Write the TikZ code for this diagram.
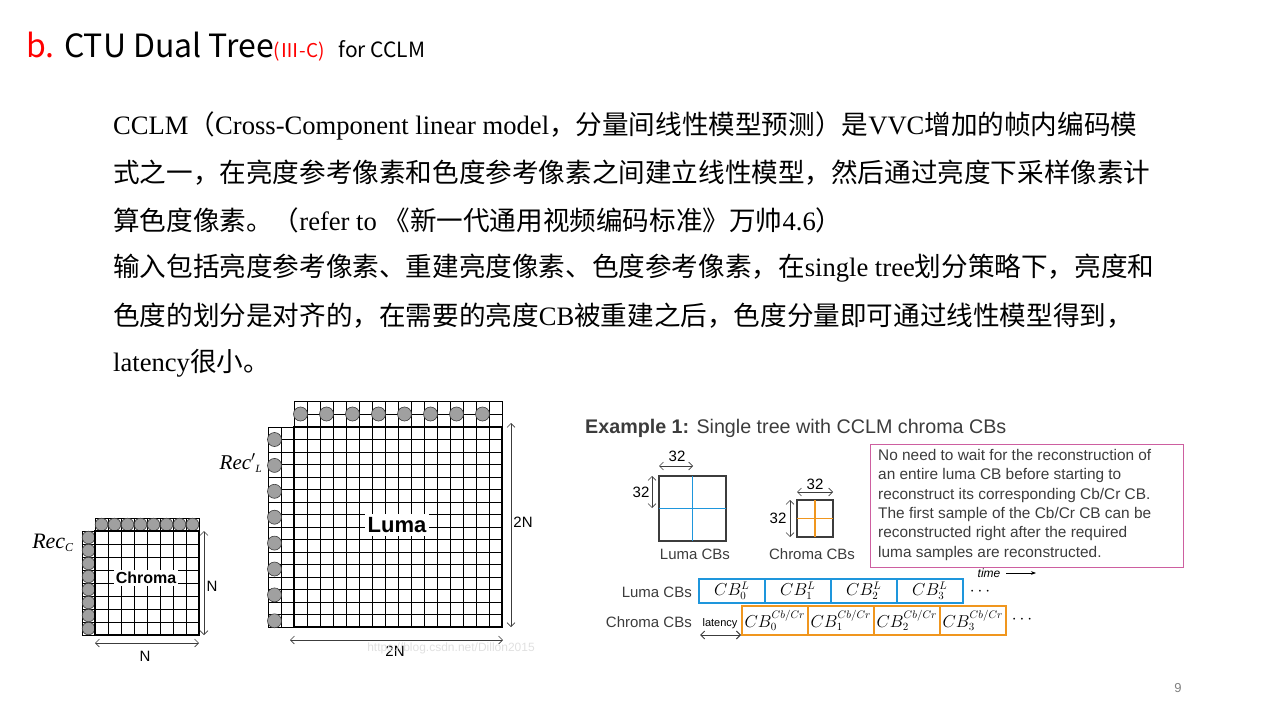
\documentclass[tikz,border=0pt]{standalone}
\usepackage{fontspec}
\setmainfont{Liberation Serif}
\setsansfont{Liberation Sans}
\newfontfamily\cjk{Noto Sans CJK SC}
\usetikzlibrary{arrows.meta}
\definecolor{dgray}{RGB}{60,60,60}
\definecolor{cbblue}{RGB}{30,150,220}
\definecolor{cborange}{RGB}{240,150,30}
\definecolor{pinkb}{RGB}{205,95,160}
\definecolor{circg}{RGB}{160,160,160}
\tikzset{
 cell/.style={draw=black,line width=0.6pt},
 smp/.style={draw=dgray,fill=circg,line width=0.6pt},
 dim/.style={{Straight Barb[length=4pt]}-{Straight Barb[length=4pt]},draw=dgray,line width=0.6pt},
 body/.style={anchor=west,inner sep=0,font=\fontsize{26.6}{29}\selectfont},
 sm/.style={font=\sffamily\fontsize{15}{18}\selectfont,inner sep=1pt},
 cbl/.style={draw=cbblue,line width=1.5pt,font=\fontsize{16}{18}\selectfont},
 cbo/.style={draw=cborange,line width=1.5pt,font=\fontsize{16}{18}\selectfont},
}
\begin{document}
\begin{tikzpicture}[x=1pt,y=-1pt]
\useasboundingbox (0,0) rectangle (1280,720);
% title
\node[anchor=base west,inner sep=0,font=\cjk\fontsize{32}{34}\selectfont] (title) at (26,57)
 {\textcolor{red}{b.} CTU Dual Tree\textcolor{red}{\fontsize{19}{20}\selectfont(Ⅲ-C)}\hspace{14pt}{\fontsize{21}{22}\selectfont for CCLM}};
% body
\node[body] (l1) at (113,126) {CCLM{\cjk （}Cross-Component linear model{\cjk ，分量间线性模型预测）是}VVC{\cjk 增加的帧内编码模}};
\node[body] (l2) at (113,173) {\cjk 式之一，在亮度参考像素和色度参考像素之间建立线性模型，然后通过亮度下采样像素计};
\node[body] (l3) at (113,220) {{\cjk 算色度像素。（}refer to {\cjk 《新一代通用视频编码标准》万帅}4.6{\cjk ）}};
\node[body] (l4) at (113,268) {{\cjk 输入包括亮度参考像素、重建亮度像素、色度参考像素，在}single tree{\cjk 划分策略下，亮度和}};
\node[body] (l5) at (113,316) {{\cjk 色度的划分是对齐的，在需要的亮度}CB{\cjk 被重建之后，色度分量即可通过线性模型得到，}};
\node[body] (l6) at (113,363) {latency{\cjk 很小。}};
% chroma grid
\foreach \i in {0,...,8} {
 \draw[cell] (95+13*\i,531) -- (95+13*\i,635);
 \draw[cell] (95,531+13*\i) -- (199,531+13*\i);
 \draw[cell] (95+13*\i,518) -- (95+13*\i,531);
 \draw[cell] (82,531+13*\i) -- (95,531+13*\i);}
\draw[cell] (95,518) -- (199,518); \draw[cell] (82,531) -- (82,635);
\foreach \i in {0,...,7} {
 \draw[smp] (101.5+13*\i,524.5) circle (6.3);
 \draw[smp] (88.5,537.5+13*\i) circle (6.3);}
\draw[line width=1.6pt] (95,531) rectangle (199,635);
\node[fill=white,inner sep=2pt,font=\sffamily\bfseries\fontsize{16}{18}\selectfont] (chroma) at (146,578) {Chroma};
\node[font=\itshape\fontsize{22}{24}\selectfont,inner sep=0] (recc) at (53,543) {Rec\textsubscript{\fontsize{12}{12}\selectfont\upshape\itshape C}};
\coordinate (cvt) at (204,531); \coordinate (cvb) at (204,635);
\draw[dim] (cvt) -- (cvb);
\node[sm] (cn1) at (212,586) {N};
\coordinate (chl) at (95,643); \coordinate (chr) at (199,643);
\draw[dim] (chl) -- (chr);
\node[sm] (cn2) at (145,656) {N};
% luma grid
\foreach \i in {0,...,16} {
 \draw[cell] (294+13*\i,401) -- (294+13*\i,627);
 \draw[cell] (268,427+12.5*\i) -- (502,427+12.5*\i);}
\draw[cell] (294,401) -- (502,401); \draw[cell] (294,414) -- (502,414);
\draw[cell] (268,427) -- (268,627); \draw[cell] (281,427) -- (281,627);
\foreach \i in {0,...,7} {
 \draw[smp] (300.5+26*\i,414) circle (7);
 \draw[smp] (274.5,439.5+25.9*\i) circle (7);}
\draw[line width=1.6pt] (294,427) rectangle (502,627);
\node[fill=white,inner sep=3pt,font=\sffamily\bfseries\fontsize{22}{24}\selectfont] (luma) at (397,525) {Luma};
\node[font=\itshape\fontsize{21}{24}\selectfont,inner sep=0] (recl) at (241,463) {Rec$'$\textsubscript{\fontsize{11}{11}\selectfont L}};
\coordinate (lvt) at (511,423); \coordinate (lvb) at (511,627);
\draw[dim] (lvt) -- (lvb);
\node[sm] (ln1) at (523,522) {2N};
\coordinate (lhl) at (290,640); \coordinate (lhr) at (503,640);
\draw[dim] (lhl) -- (lhr);
\node[sm] (ln2) at (395,651) {2N};
\node[font=\sffamily\fontsize{12}{14}\selectfont,text=black!12,inner sep=0] (wm) at (451,648) {https://blog.csdn.net/Dillon2015};
% example
\node[anchor=west,inner sep=0,font=\sffamily\fontsize{19.7}{22}\selectfont,text=dgray] (ex) at (585,428) {\textbf{Example 1:} Single tree with CCLM chroma CBs};
\draw[dgray,line width=2pt] (659,476) rectangle (726,541);
\draw[cbblue,line width=1.2pt] (692.5,476) -- (692.5,541) (659,508.5) -- (726,508.5);
\draw[dim] (659,466) -- (693,466); \node[sm] (n32a) at (677,456) {32};
\draw[dim] (652,476) -- (652,508); \node[sm] (n32b) at (641,492) {32};
\node[sm,text=dgray] (lcb) at (695,554) {Luma CBs};
\draw[dgray,line width=2pt] (797,500) rectangle (833,537);
\draw[cborange,line width=1.2pt] (815,500) -- (815,537) (797,518.5) -- (833,518.5);
\draw[dim] (797,492) -- (833,492); \node[sm] (n32c) at (815,484) {32};
\draw[dim] (790,500) -- (790,537); \node[sm] (n32d) at (778,518) {32};
\node[sm,text=dgray] (ccb) at (812,554) {Chroma CBs};
\node[draw=pinkb,line width=1pt,anchor=north west,minimum width=313pt,minimum height=123pt,inner sep=0] (note) at (870,444) {};
\node[anchor=north west,align=left,inner sep=0,font=\sffamily\fontsize{15.4}{19.4}\selectfont,text=dgray] (notet) at (878,449)
 {No need to wait for the reconstruction of\\an entire luma CB before starting to\\reconstruct its corresponding Cb/Cr CB.\\The first sample of the Cb/Cr CB can be\\reconstructed right after the required\\luma samples are reconstructed.};
\node[sm,font=\sffamily\itshape\fontsize{12}{14}\selectfont] (time) at (989,573) {time};
\coordinate (ta) at (1006,573); \coordinate (tb) at (1036,573);
\draw[-{Stealth[length=5pt]},line width=1pt] (ta) -- (tb);
\node[sm,anchor=east,text=dgray] (lrow) at (693,592) {Luma CBs};
\node[sm,anchor=east,text=dgray] (crow) at (693,622) {Chroma CBs};
\foreach \i in {0,...,3} {
 \node[cbl,minimum width=66pt,minimum height=24pt,anchor=north west,inner sep=0] (L\i) at (698+66*\i,578) {$CB_{\i}^{L}$};
 \node[cbo,minimum width=66pt,minimum height=29pt,anchor=north west,inner sep=0] (C\i) at (741+66*\i,605) {$CB_{\i}^{Cb/Cr}$};}
\node[sm,font=\fontsize{16}{18}\selectfont] (d1) at (980,592) {$\cdots$};
\node[sm,font=\fontsize{16}{18}\selectfont] (d2) at (1022,620) {$\cdots$};
\node[sm,font=\sffamily\fontsize{11}{12}\selectfont] (lat) at (720,624) {latency};
\coordinate (la) at (700,635); \coordinate (lb) at (741,635);
\draw[dim,line width=1pt] (la) -- (lb);
\node[font=\sffamily\fontsize{13}{14}\selectfont,text=gray] (pg) at (1178,688) {9};
\end{tikzpicture}
\end{document}
